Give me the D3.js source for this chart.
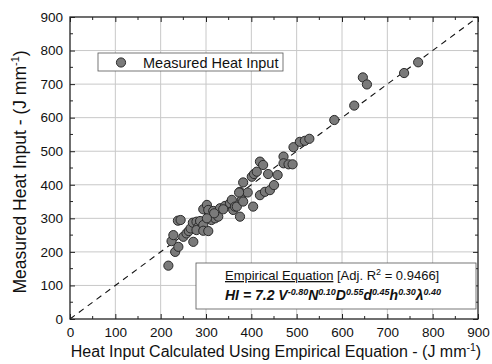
<!DOCTYPE html>
<html><head><meta charset="utf-8">
<script src="https://cdn.jsdelivr.net/npm/d3@7"></script>
<style>body{margin:0;background:#fff}svg{display:block;font-family:"Liberation Sans",Arial,sans-serif}</style>
</head><body><svg id="c" width="492" height="364"></svg>
<script>
const calcX = [217,224,228,232,239,238,244,250,257,262,266,272,271,279,283,287,279,294,294,305,
  294,302,305,312,316,320,327,331,342,338,318,302,353,357,360,364,368,375,375,379,382,382,392,404,373,
  401,406,412,419,426,419,430,441,450,437,458,
  471,471,482,491,493,507,518,528,583,627,646,655,737,768];
const measY = [159,232,250,200,215,293,295,245,255,262,270,230,287,290,275,292,265,280,263,262,
  327,340,325,295,322,300,305,330,337,327,315,300,345,355,325,335,335,305,379,355,350,407,377,335,377,
  424,432,439,469,459,369,379,384,399,432,429,
  484,464,461,461,512,528,531,537,593,636,720,699,733,765];
const xTicks = [0,100,200,300,400,500,600,700,800,900];
const yTicks = [0,100,200,300,400,500,600,700,800,900];
const minorTicks = [50,150,250,350,450,550,650,750,850];
const fitLine = [[0,0],[900,900]];

const svg = d3.select("#c");
const L=70,R=478,T=17,B=319;
const x = d3.scaleLinear().domain([0,900]).range([L,R]);
const y = d3.scaleLinear().domain([0,900]).range([B,T]);

// grid
svg.append("g").selectAll("line").data(xTicks.slice(1,-1)).join("line")
  .attr("x1",d=>x(d)).attr("x2",d=>x(d)).attr("y1",T).attr("y2",B)
  .attr("stroke","#c8c8c8").attr("stroke-width",1);
svg.append("g").selectAll("line").data(yTicks.slice(1,-1)).join("line")
  .attr("y1",d=>y(d)).attr("y2",d=>y(d)).attr("x1",L).attr("x2",R)
  .attr("stroke","#c8c8c8").attr("stroke-width",1);

// dashed fit line
svg.append("line").attr("x1",x(fitLine[0][0])).attr("y1",y(fitLine[0][1]))
  .attr("x2",x(fitLine[1][0])).attr("y2",y(fitLine[1][1]))
  .attr("stroke","#111").attr("stroke-width",1.1).attr("stroke-dasharray","6,5");

// axes
const fs = 13.5;
const ax = svg.append("g").attr("transform",`translate(0,${B})`)
  .call(d3.axisBottom(x).tickValues(xTicks).tickSize(-5).tickPadding(8));
const ay = svg.append("g").attr("transform",`translate(${L},0)`)
  .call(d3.axisLeft(y).tickValues(yTicks).tickSize(-5).tickPadding(7));
const axT = svg.append("g").attr("transform",`translate(0,${T})`)
  .call(d3.axisTop(x).tickValues(xTicks).tickSize(-5).tickFormat(""));
const ayR = svg.append("g").attr("transform",`translate(${R},0)`)
  .call(d3.axisRight(y).tickValues(yTicks).tickSize(-5).tickFormat(""));
[ax,ay,axT,ayR].forEach(g=>{
  g.select(".domain").remove();
  g.selectAll("line").attr("stroke","#222");
  g.selectAll("text").attr("font-size",fs).attr("fill","#111").attr("font-family","Liberation Sans, Arial, sans-serif");
});
// minor ticks
const mt = svg.append("g").attr("stroke","#222");
minorTicks.forEach(v=>{
  mt.append("line").attr("x1",x(v)).attr("x2",x(v)).attr("y1",B).attr("y2",B-3);
  mt.append("line").attr("x1",x(v)).attr("x2",x(v)).attr("y1",T).attr("y2",T+3);
  mt.append("line").attr("y1",y(v)).attr("y2",y(v)).attr("x1",L).attr("x2",L+3);
  mt.append("line").attr("y1",y(v)).attr("y2",y(v)).attr("x1",R).attr("x2",R-3);
});
svg.append("rect").attr("x",L).attr("y",T).attr("width",R-L).attr("height",B-T)
  .attr("fill","none").attr("stroke","#222").attr("stroke-width",1.3);

// points
svg.append("g").selectAll("circle").data(calcX.map((v,i)=>[v,measY[i]])).join("circle")
  .attr("cx",d=>x(d[0])).attr("cy",d=>y(d[1])).attr("r",4.6)
  .attr("fill","#7a7a7a").attr("stroke","#2a2a2a").attr("stroke-width",1);

// legend
svg.append("rect").attr("x",98).attr("y",53).attr("width",185).attr("height",18)
  .attr("fill","#fff").attr("stroke","#555").attr("stroke-width",0.8);
svg.append("circle").attr("cx",121).attr("cy",62.5).attr("r",4.6)
  .attr("fill","#7a7a7a").attr("stroke","#2a2a2a");
svg.append("text").attr("x",143).attr("y",67.5).attr("font-size",14.5).attr("fill","#111")
  .text("Measured Heat Input");

// equation box
svg.append("rect").attr("x",196).attr("y",263).attr("width",280).attr("height",46)
  .attr("fill","#fff").attr("stroke","#555").attr("stroke-width",0.8);
const t1 = svg.append("text").attr("x",225).attr("y",280).attr("font-size",13).attr("fill","#111");
t1.append("tspan").attr("text-decoration","underline").text("Empirical Equation");
t1.append("tspan").text(" [Adj. R");
t1.append("tspan").attr("font-size",9).attr("dy",-5).text("2");
t1.append("tspan").attr("dy",5).text(" = 0.9466]");
const t2 = svg.append("text").attr("x",225).attr("y",300).attr("font-size",14)
  .attr("font-weight","bold").attr("font-style","italic").attr("fill","#111");
const eq = [["HI = 7.2 V","-0.80"],["N","0.10"],["D","0.55"],["d","0.45"],["h","0.30"],["\u03bb","0.40"]];
eq.forEach(([b,s],i)=>{
  t2.append("tspan").attr("dy",i===0?0:5).text(b);
  t2.append("tspan").attr("font-size",9).attr("dy",-5).text(s);
});

// axis titles
const xl = svg.append("text").attr("x",276).attr("y",357).attr("text-anchor","middle")
  .attr("font-size",16).attr("fill","#111");
xl.append("tspan").text("Heat Input Calculated Using Empirical Equation - (J mm");
xl.append("tspan").attr("font-size",10.5).attr("dy",-6).text("-1");
xl.append("tspan").attr("dy",6).text(")");
const yl = svg.append("text").attr("transform",`translate(26,${172}) rotate(-90)`)
  .attr("text-anchor","middle").attr("font-size",17.5).attr("fill","#111");
yl.append("tspan").text("Measured Heat Input - (J mm");
yl.append("tspan").attr("font-size",11).attr("dy",-7).text("-1");
yl.append("tspan").attr("dy",7).text(")");
</script></body></html>
